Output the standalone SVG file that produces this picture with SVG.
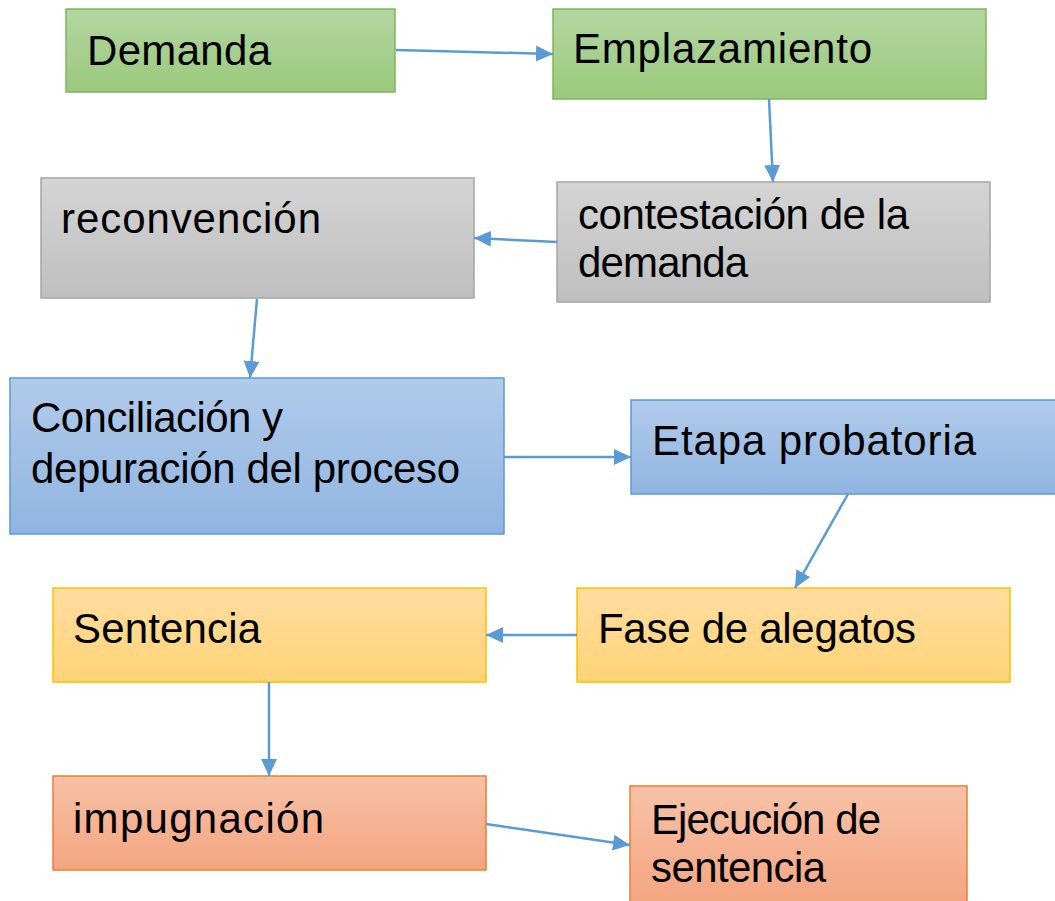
<svg xmlns="http://www.w3.org/2000/svg" width="1055" height="901" viewBox="0 0 1055 901">
<defs>
<linearGradient id="gGreen" x1="0" y1="0" x2="0" y2="1"><stop offset="0" stop-color="#b3d6a2"/><stop offset="1" stop-color="#9bc97c"/></linearGradient>
<linearGradient id="gGray" x1="0" y1="0" x2="0" y2="1"><stop offset="0" stop-color="#d4d4d4"/><stop offset="1" stop-color="#bfbfbf"/></linearGradient>
<linearGradient id="gBlue" x1="0" y1="0" x2="0" y2="1"><stop offset="0" stop-color="#b1cbea"/><stop offset="1" stop-color="#90b4e1"/></linearGradient>
<linearGradient id="gYellow" x1="0" y1="0" x2="0" y2="1"><stop offset="0" stop-color="#ffdda0"/><stop offset="1" stop-color="#ffd377"/></linearGradient>
<linearGradient id="gOrange" x1="0" y1="0" x2="0" y2="1"><stop offset="0" stop-color="#f7c2a7"/><stop offset="1" stop-color="#f4a480"/></linearGradient>
<marker id="arr" markerUnits="userSpaceOnUse" markerWidth="18" markerHeight="18" viewBox="0 0 18 18" refX="17" refY="9" orient="auto"><path d="M0,1 L17,9 L0,17 Z" fill="#5b9bd5"/></marker>
<style>
text{font-family:"Liberation Sans",Arial,sans-serif;font-size:42px;fill:#000}
.green{fill:url(#gGreen);stroke:#7fb45c;stroke-width:1.5}
.gray{fill:url(#gGray);stroke:#a5a5a5;stroke-width:1.5}
.blue{fill:url(#gBlue);stroke:#5b9bd5;stroke-width:1.5}
.yellow{fill:url(#gYellow);stroke:#ffc000;stroke-width:1.5}
.orange{fill:url(#gOrange);stroke:#ed7d31;stroke-width:1.5}
.conn line{stroke:#5b9bd5;stroke-width:2.5;marker-end:url(#arr)}
</style>
</defs>
<rect width="1055" height="901" fill="#fff"/>
<g id="demanda"><rect class="green" x="66" y="9" width="329" height="83"/><text x="87" y="65" textLength="184">Demanda</text></g>
<g id="emplazamiento"><rect class="green" x="553" y="9" width="433" height="90"/><text x="573" y="63" textLength="299">Emplazamiento</text></g>
<g id="reconvencion"><rect class="gray" x="41" y="178" width="433" height="120"/><text x="61" y="233" textLength="260">reconvención</text></g>
<g id="contestacion"><rect class="gray" x="557" y="182" width="433" height="120"/><text x="578" y="229" textLength="331">contestación de la</text><text x="578" y="277" textLength="170">demanda</text></g>
<g id="conciliacion"><rect class="blue" x="10" y="378" width="494" height="156"/><text x="31" y="432" textLength="252">Conciliación y</text><text x="31" y="483" textLength="429">depuración del proceso</text></g>
<g id="etapa"><rect class="blue" x="631" y="400" width="430" height="94"/><text x="652" y="455" textLength="324">Etapa probatoria</text></g>
<g id="sentencia"><rect class="yellow" x="53" y="588" width="433" height="94"/><text x="73" y="643" textLength="188">Sentencia</text></g>
<g id="alegatos"><rect class="yellow" x="577" y="588" width="433" height="94"/><text x="598" y="643" textLength="318">Fase de alegatos</text></g>
<g id="impugnacion"><rect class="orange" x="53" y="776" width="433" height="94"/><text x="73" y="833" textLength="251">impugnación</text></g>
<g id="ejecucion"><rect class="orange" x="630" y="786" width="337" height="120"/><text x="651" y="834" textLength="230">Ejecución de</text><text x="651" y="882" textLength="175">sentencia</text></g>
<g id="connectors" class="conn">
<line x1="396" y1="50" x2="553" y2="54"/>
<line x1="769" y1="99" x2="773" y2="182"/>
<line x1="557" y1="242" x2="474" y2="238"/>
<line x1="257" y1="299" x2="250" y2="378"/>
<line x1="504" y1="457" x2="631" y2="457"/>
<line x1="848" y1="494" x2="795" y2="588"/>
<line x1="577" y1="635" x2="486" y2="635"/>
<line x1="269" y1="682" x2="269" y2="776"/>
<line x1="486" y1="824" x2="630" y2="845"/>
</g>
</svg>
